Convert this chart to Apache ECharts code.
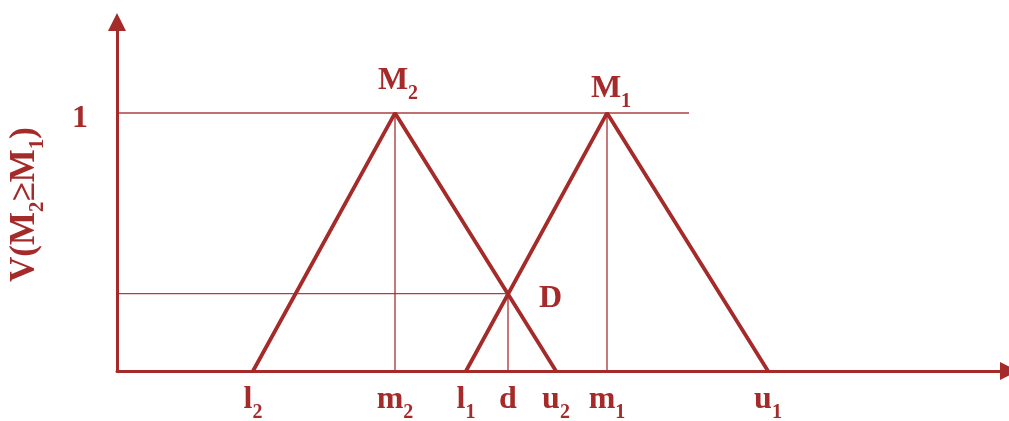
<!DOCTYPE html>
<html>
<head>
<meta charset="utf-8">
<script src="https://cdn.jsdelivr.net/npm/echarts@6/dist/echarts.min.js"></script>
<style>html,body{margin:0;padding:0;background:#fff}#c{width:1009px;height:421px}</style>
</head>
<body>
<div id="c"></div>
<script>
// ---- data ----
const xTickValues = [13.6, 27.8, 34.9, 39.1, 43.9, 49.0, 65.1];
const xTickMain   = ['l', 'm', 'l', 'd', 'u', 'm', 'u'];
const xTickSub    = ['2', '2', '1', '',  '2', '1', '1'];
const yTickValues = [1];
const yTickLabels = ['1'];
const M2 = [13.6, 27.8, 43.9];   // l2, m2, u2
const M1 = [34.9, 49.0, 65.1];   // l1, m1, u1
const dPoint = [39.1, 0.3];      // d, V(M2>=M1)
const topLineEnd = 57.2;
const peakNames = [['M', '2'], ['M', '1'], ['D', '']];

const RED = '#a52a2a';
const FONT = 'Liberation Serif';
const rich = {
  n: {fontFamily: FONT, fontWeight: 'bold', fontSize: 32, color: RED, lineHeight: 32, verticalAlign: 'top'},
  s: {fontFamily: FONT, fontWeight: 'bold', fontSize: 20, color: RED, lineHeight: 20, padding: [19, 0, 0, 0], verticalAlign: 'top'},
  y: {fontFamily: FONT, fontWeight: 'bold', fontSize: 32, color: RED, lineHeight: 32, padding: [12, 0, 0, 0]},
  nn: {fontFamily: FONT, fontWeight: 'bold', fontSize: 35, color: RED, lineHeight: 35, verticalAlign: 'top'},
  ss: {fontFamily: FONT, fontWeight: 'bold', fontSize: 21, color: RED, lineHeight: 21, padding: [20, 0, 0, 0], verticalAlign: 'top'}
};
function lab(main, sub) {
  return '{n|' + main + '}' + (sub ? '{s|' + sub + '}' : '');
}

const thin = {color: RED, width: 1.4, opacity: 0.9};
const thick = {color: RED, width: 3.8};
function seg(data, style) {
  return {type: 'line', data: data, symbol: 'none', lineStyle: style, silent: true, z: 3};
}

const chart = echarts.init(document.getElementById('c'));
chart.setOption({
  animation: false,
  grid: {left: 117, right: 0, top: 22, bottom: 50, outerBoundsMode: 'none', containLabel: false},
  xAxis: {
    type: 'value', min: 0, max: 89.2,
    splitLine: {show: false},
    axisTick: {show: false},
    axisLine: {show: true, lineStyle: {color: RED, width: 3}, symbol: ['none', 'triangle'], symbolSize: [18, 18]},
    axisLabel: {
      customValues: xTickValues, margin: 13, rich: rich,
      formatter: function (v) {
        const i = xTickValues.findIndex(function (t) { return Math.abs(t - v) < 1e-6; });
        return i < 0 ? '' : lab(xTickMain[i], xTickSub[i]);
      }
    }
  },
  yAxis: {
    type: 'value', min: 0, max: 1.353,
    splitLine: {show: false},
    axisTick: {show: false},
    axisLine: {show: true, onZero: false, lineStyle: {color: RED, width: 3}, symbol: ['none', 'triangle'], symbolSize: [18, 18]},
    axisLabel: {
      customValues: yTickValues, margin: 29, rich: rich,
      formatter: function (v) {
        const i = yTickValues.indexOf(v);
        return i < 0 ? '' : '{y|' + yTickLabels[i] + '}';
      }
    },
    name: '{nn|V(M}{ss|2}{nn|≥M}{ss|1}{nn|)}',
    nameLocation: 'middle', nameRotate: 90, nameGap: 75,
    nameTextStyle: {rich: rich, padding: [0, 16, 0, 0]}
  },
  series: [
    seg([[M2[0], 0], [M2[1], 1], [M2[2], 0]], thick),
    seg([[M1[0], 0], [M1[1], 1], [M1[2], 0]], thick),
    seg([[0, 1], [topLineEnd, 1]], thin),
    seg([[M2[1], 0], [M2[1], 1]], thin),
    seg([[M1[1], 0], [M1[1], 1]], thin),
    seg([[0, dPoint[1]], [dPoint[0], dPoint[1]]], thin),
    seg([[dPoint[0], 0], [dPoint[0], dPoint[1]]], thin),
    {
      type: 'scatter', symbolSize: 0, silent: true, z: 4,
      itemStyle: {opacity: 1},
      data: [
        {value: [M2[1], 1], label: {show: true, position: 'top', distance: 16, offset: [3, 0], formatter: lab(peakNames[0][0], peakNames[0][1]), rich: rich}},
        {value: [M1[1], 1], label: {show: true, position: 'top', distance: 8, offset: [4, 0], formatter: lab(peakNames[1][0], peakNames[1][1]), rich: rich}},
        {value: [dPoint[0], dPoint[1]], label: {show: true, position: 'right', distance: 31, offset: [0, 5], formatter: lab(peakNames[2][0], peakNames[2][1]), rich: rich}}
      ]
    }
  ]
});
</script>
</body>
</html>
